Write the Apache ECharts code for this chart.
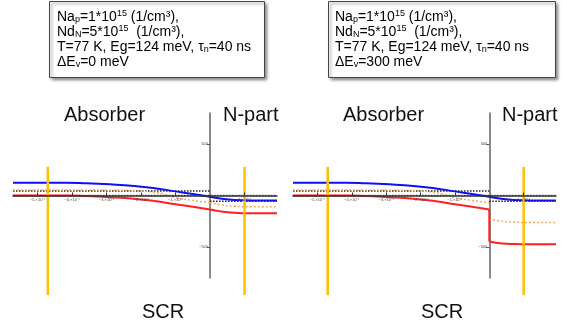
<!DOCTYPE html>
<html><head><meta charset="utf-8">
<script src="https://cdn.jsdelivr.net/npm/echarts@6/dist/echarts.min.js"></script>
<style>html,body{margin:0;padding:0;background:#fff}#c{width:567px;height:326px}</style>
</head><body><div id="c"></div>
<script>
// x positions in units of 1e-4 (cm)
const xP = [-5.71, -4.2, -3.6, -2.9, -2.2, -1.6, -1.0, -0.5, 0];
const xN = [0, 0.3, 0.7, 1.2, 1.94];
// conduction band (blue), meV
const ecP = [124, 124, 119, 108, 92, 70, 40, 14, -12];
const ecN = [-12, -30, -44, -48, -48];
// valence band (red), meV
const evP = [0, 0, -5, -16, -32, -54, -84, -110, -136];
const evN_0 = [-136, -154, -167, -172, -172];
const evN_300 = [-446, -462, -470, -472, -472];
// orange dotted level, meV
const orP = [53, 53, 53, 52, 46, 32, -20, -48, -68];
const orN_0 = [-68, -90, -104, -110, -110];
const orN_300 = [-228, -246, -258, -262, -262];
// black dotted level, meV
const blkP = 44;
const blkN = -55;
// vertical marker positions (1e-4 cm) and their vertical extent (meV)
const markX = [-4.7, 1.0];
const markY = [-966, 277];
// ticks
const xTickVals = [-5, -4, -3, -2, -1, 1];
const xTickLabels = ['−5.×10⁻⁴', '−4.×10⁻⁴', '−3.×10⁻⁴', '−2.×10⁻⁴', '−1.×10⁻⁴', '1.×10⁻⁴'];
const yTickVals = [-500, 500];
const yTickLabels = ['−500', '500'];
const boxLines = [
  ['Na', 'p', '=1*10', '15', ' (1/cm³),'],
  ['Nd', 'N', '=5*10', '15', '  (1/cm³),'],
  ['T=77 K, Eg=124 meV, τ', 'n', '=40 ns'],
];
const dEv = ['0 meV', '300 meV'];

const zip = (xs, ys) => xs.map((x, i) => [x, ys[i]]);
const chart = echarts.init(document.getElementById('c'));
const GT = 113, GH = 165;
const grids = [{left: 13, width: 264}, {left: 293, width: 263}];
const xMin = -5.71, xMax = 1.94, yMin = -800, yMax = 800;

const xAxes = [], yAxes = [], series = [];
grids.forEach((g, i) => {
  const offY = GH * (0 - yMin) / (yMax - yMin);
  const offX = g.width * (0 - xMin) / (xMax - xMin);
  xAxes.push({
    gridIndex: i, type: 'value', min: xMin, max: xMax, position: 'bottom', offset: -offY, z: 5,
    axisLine: {onZero: false, lineStyle: {color: '#333', width: 1.5}},
    axisTick: {show: true, inside: true, length: 3, customValues: xTickVals, lineStyle: {color: '#333'}},
    axisLabel: {customValues: xTickVals, fontSize: 4, margin: 2, color: '#444',
      formatter: v => xTickLabels[xTickVals.indexOf(Math.round(v))] || ''},
    splitLine: {show: false}
  });
  yAxes.push({
    gridIndex: i, type: 'value', min: yMin, max: yMax, position: 'left', offset: -offX,
    axisLine: {onZero: false, lineStyle: {color: '#666', width: 1.5}},
    axisTick: {show: true, length: 3, customValues: yTickVals, lineStyle: {color: '#555'}},
    axisLabel: {customValues: yTickVals, fontSize: 4, margin: 2, color: '#444',
      formatter: v => yTickLabels[yTickVals.indexOf(Math.round(v))] || ''},
    splitLine: {show: false}
  });
  const evN = i === 0 ? evN_0 : evN_300;
  const orN = i === 0 ? orN_0 : orN_300;
  const base = {xAxisIndex: i, yAxisIndex: i, type: 'line', symbol: 'none', animation: false};
  series.push(
    Object.assign({}, base, {data: zip(xP.concat(xN.slice(1)), xP.map(() => 0).concat(xN.slice(1).map(() => 0))), lineStyle: {color: '#555', width: 1.5, type: [1.5, 1.5]}}),
    Object.assign({}, base, {data: zip([xP[0], xP[xP.length - 1]], [blkP, blkP]), lineStyle: {color: '#222', width: 1.5, type: [1.5, 1.5]}}),
    Object.assign({}, base, {data: zip([xN[0], xN[xN.length - 1]], [blkN, blkN]), lineStyle: {color: '#222', width: 1.5, type: [1.5, 1.5]}}),
    Object.assign({}, base, {smooth: true, data: zip(xP, orP), lineStyle: {color: '#f5a860', width: 1.5, type: [2, 2]}}),
    Object.assign({}, base, {smooth: true, data: zip(xN, orN), lineStyle: {color: '#f5a860', width: 1.5, type: [2, 2]}}),
    Object.assign({}, base, {smooth: true, data: zip(xP, ecP), lineStyle: {color: '#1010f0', width: 2}}),
    Object.assign({}, base, {smooth: true, data: zip(xN, ecN), lineStyle: {color: '#1010f0', width: 2}}),
    Object.assign({}, base, {smooth: true, data: zip(xP, evP), lineStyle: {color: '#ff2020', width: 2}}),
    Object.assign({}, base, {data: zip([0, 0], [evP[evP.length - 1], evN[0]]), lineStyle: {color: '#ff2020', width: 2}}),
    Object.assign({}, base, {smooth: true, data: zip(xN, evN), lineStyle: {color: '#ff2020', width: 2}}),
    Object.assign({}, base, {clip: false, data: zip([markX[0], markX[0]], markY), lineStyle: {color: '#ffc000', width: 2.5}}),
    Object.assign({}, base, {clip: false, data: zip([markX[1], markX[1]], markY), lineStyle: {color: '#ffc000', width: 2.5}})
  );
});

function boxText(last) {
  const lines = boxLines.map(parts => parts.map((p, k) => {
    const tag = (k % 2 === 0) ? 't' : (p === '15' ? 'sup' : 'sub');
    return '{' + tag + '|' + p + '}';
  }).join(''));
  lines.push('{t|ΔE}{sub|v}{t|=' + last + '}');
  return lines.join('\n');
}
const ff = '"Liberation Sans", Arial, sans-serif';
const rich = {
  t: {fontSize: 14, lineHeight: 15, fontFamily: ff, color: '#111'},
  sub: {fontSize: 9, lineHeight: 6, verticalAlign: 'bottom', fontFamily: ff, color: '#111'},
  sup: {fontSize: 9, lineHeight: 10, verticalAlign: 'top', fontFamily: ff, color: '#111'}
};
const bigFont = '20px ' + ff;
const boxes = [{x: 49.5, w: 215, tx: 57}, {x: 328.5, w: 227, tx: 335}];
const labelPos = [
  {abs: 64, np: 223, scr: 142},
  {abs: 343, np: 502, scr: 421}
];
const graphic = [];
boxes.forEach((b, i) => {
  graphic.push({type: 'rect', shape: {x: b.x, y: 1.5, width: b.w, height: 76},
    style: {fill: '#fff', stroke: '#444', lineWidth: 1, shadowBlur: 3, shadowOffsetX: 2, shadowOffsetY: 2, shadowColor: 'rgba(0,0,0,0.45)'}, z: 10});
  graphic.push({type: 'text', z: 11, style: {x: b.tx, y: 9.5, text: boxText(dEv[i]), verticalAlign: 'top', align: 'left', rich: rich}});
  const L = labelPos[i];
  graphic.push({type: 'text', z: 11, style: {x: L.abs, y: 115, text: 'Absorber', font: bigFont, fill: '#111', verticalAlign: 'middle'}});
  graphic.push({type: 'text', z: 11, style: {x: L.np, y: 115, text: 'N-part', font: bigFont, fill: '#111', verticalAlign: 'middle'}});
  graphic.push({type: 'text', z: 11, style: {x: L.scr, y: 312, text: 'SCR', font: bigFont, fill: '#111', verticalAlign: 'middle'}});
});

chart.setOption({
  animation: false,
  backgroundColor: '#fff',
  grid: grids.map(g => ({left: g.left, width: g.width, top: GT, height: GH, show: false})),
  xAxis: xAxes,
  yAxis: yAxes,
  series: series,
  graphic: graphic
});
</script>
</body></html>
